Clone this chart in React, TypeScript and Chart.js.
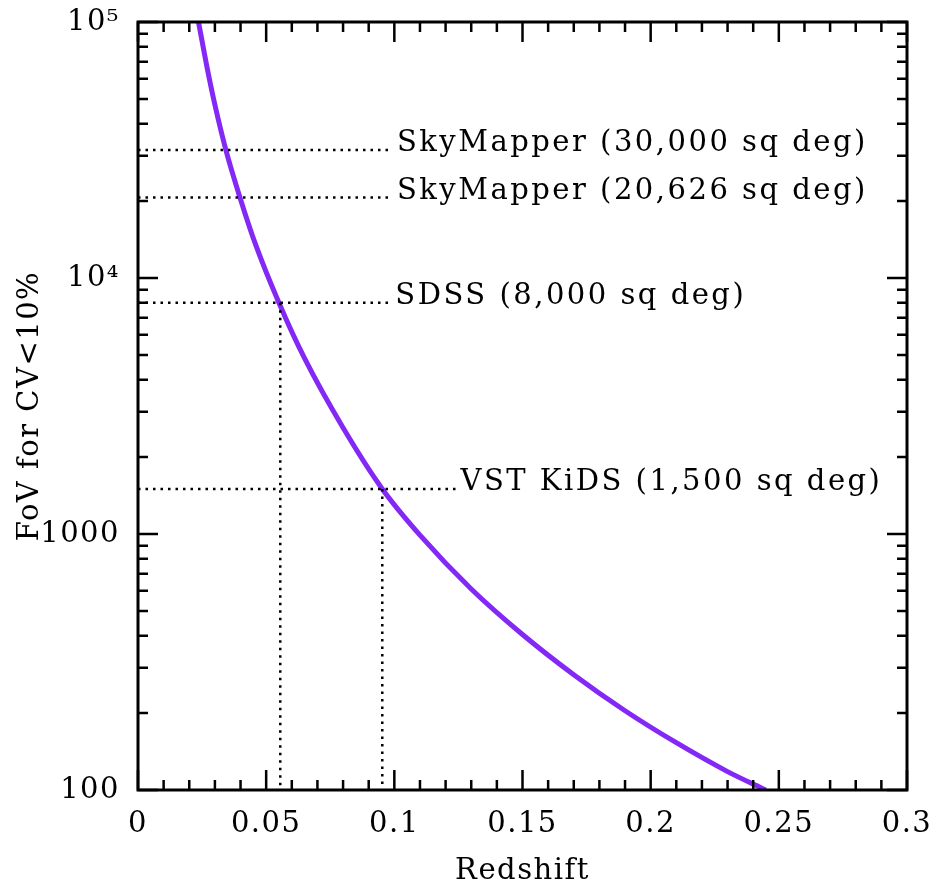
import { useEffect, useRef } from 'react';
import { Chart, registerables } from 'chart.js';

Chart.register(...registerables);

// ---- data ----
const redshift = [0.0236, 0.027, 0.03, 0.0343, 0.0398, 0.046, 0.0551, 0.065, 0.08, 0.0953, 0.11, 0.13, 0.15, 0.17, 0.19, 0.21, 0.23, 0.2449];
const fovForCV = [100000, 66000, 47500, 31600, 20600, 13400, 7950, 4850, 2600, 1500, 990, 610, 405, 282, 204, 153, 118, 100];

const xMin = 0;
const xMax = 0.3;
const xMajorStep = 0.05;
const xMinorStep = 0.01;
const yMin = 100;
const yMax = 100000;
const yTickValues = [100, 1000, 10000, 100000];
const yTickLabels = ['100', '1000', '10⁴', '10⁵'];

const surveyLabels = ['SkyMapper (30,000 sq deg)', 'SkyMapper (20,626 sq deg)', 'SDSS (8,000 sq deg)', 'VST KiDS (1,500 sq deg)'];
const surveyFov = [31600, 20626, 8000, 1500];
const surveyGuideEnd = [0.0992, 0.0992, 0.0992, 0.125];
const surveyLabelStart = [0.101, 0.101, 0.1004, 0.1258];
const surveyRedshift: (number | null)[] = [null, null, 0.0555, 0.0953];

const xTitle = 'Redshift';
const yTitle = 'FoV for CV<10%';

const FONT = '"DejaVu Serif", serif';
const FONT_SIZE = 29;
const CURVE_COLOR = 'rgb(131, 40, 245)';

const framePlugin = {
  id: 'frameTicks',
  beforeDraw(chart: any) {
    chart.ctx.letterSpacing = '1.5px';
  },
  afterDatasetsDraw(chart: any) {
    const { ctx } = chart;
    const xs = chart.scales.x;
    const ys = chart.scales.y;
    ctx.save();
    ctx.font = `${FONT_SIZE}px ${FONT}`;
    ctx.letterSpacing = '2.5px';
    ctx.fillStyle = '#000';
    ctx.textAlign = 'left';
    ctx.textBaseline = 'alphabetic';
    surveyLabels.forEach((t, i) => {
      ctx.fillText(t, xs.getPixelForValue(surveyLabelStart[i]), ys.getPixelForValue(surveyFov[i]) + 1);
    });
    ctx.restore();
  },
  afterDraw(chart: any) {
    const { ctx, chartArea } = chart;
    const xs = chart.scales.x;
    const ys = chart.scales.y;
    const { left, right, top, bottom } = chartArea;
    ctx.save();
    ctx.strokeStyle = '#000';
    ctx.lineCap = 'butt';
    const major = 20;
    const minor = 10;
    ctx.lineWidth = 2.5;
    ctx.beginPath();
    const nMinor = Math.round((xMax - xMin) / xMinorStep);
    const perMajor = Math.round(xMajorStep / xMinorStep);
    for (let i = 0; i <= nMinor; i++) {
      const v = xMin + i * xMinorStep;
      const px = xs.getPixelForValue(v);
      const len = i % perMajor === 0 ? major : minor;
      ctx.moveTo(px, bottom);
      ctx.lineTo(px, bottom - len);
      ctx.moveTo(px, top);
      ctx.lineTo(px, top + len);
    }
    for (let d = yMin; d < yMax; d *= 10) {
      for (let m = 1; m <= 10; m++) {
        const v = d * m;
        if (v > yMax) break;
        const py = ys.getPixelForValue(v);
        const len = m === 1 || m === 10 ? major : minor;
        ctx.moveTo(left, py);
        ctx.lineTo(left + len, py);
        ctx.moveTo(right, py);
        ctx.lineTo(right - len, py);
      }
    }
    ctx.stroke();
    ctx.lineWidth = 3;
    ctx.strokeRect(left, top, right - left, bottom - top);
    ctx.restore();
  },
};

export default function App() {
  const ref = useRef<HTMLCanvasElement | null>(null);
  useEffect(() => {
    if (!ref.current) return;
    const guideSets: any[] = [];
    const guideStyle = {
      borderColor: '#000',
      borderWidth: 2.5,
      borderDash: [2.5, 5],
      pointRadius: 0,
      fill: false,
    };
    surveyFov.forEach((f, i) => {
      guideSets.push({ ...guideStyle, data: [{ x: 0, y: f }, { x: surveyGuideEnd[i], y: f }] });
      const z = surveyRedshift[i];
      if (z !== null) {
        guideSets.push({ ...guideStyle, data: [{ x: z, y: f }, { x: z, y: yMin }] });
      }
    });
    const chart = new Chart(ref.current, {
      type: 'line',
      data: {
        datasets: [
          ...guideSets,
          {
            data: redshift.map((z, i) => ({ x: z, y: fovForCV[i] })),
            borderColor: CURVE_COLOR,
            borderWidth: 5,
            pointRadius: 0,
            cubicInterpolationMode: 'monotone',
            fill: false,
          },
        ],
      },
      options: {
        animation: false,
        responsive: false,
        events: [],
        layout: { padding: { top: 22, right: 28, left: 0, bottom: 0 } },
        plugins: { legend: { display: false }, tooltip: { enabled: false } },
        scales: {
          x: {
            type: 'linear',
            min: xMin,
            max: xMax,
            grid: { display: false, drawTicks: false },
            border: { display: false },
            ticks: {
              stepSize: xMajorStep,
              color: '#000',
              padding: 17,
              font: { family: FONT, size: FONT_SIZE },
              maxRotation: 0,
              callback: (v: any) => String(Number(Number(v).toFixed(2))),
            },
            title: {
              display: true,
              text: xTitle,
              color: '#000',
              font: { family: FONT, size: FONT_SIZE },
              padding: { top: 0, bottom: -5 },
            },
            afterFit: (s: any) => {
              s.height = 94;
              s.paddingLeft = 0;
              s.paddingRight = 0;
            },
          },
          y: {
            type: 'logarithmic',
            min: yMin,
            max: yMax,
            grid: { display: false, drawTicks: false },
            border: { display: false },
            afterBuildTicks: (s: any) => {
              s.ticks = yTickValues.map((v) => ({ value: v }));
            },
            ticks: {
              color: '#000',
              padding: 18,
              font: { family: FONT, size: FONT_SIZE },
              callback: (v: any) => {
                const i = yTickValues.indexOf(Number(v));
                return i >= 0 ? yTickLabels[i] : '';
              },
            },
            title: {
              display: true,
              text: yTitle,
              color: '#000',
              font: { family: FONT, size: FONT_SIZE },
              padding: { top: 13, bottom: 0 },
            },
            afterFit: (s: any) => {
              s.width = 138;
              s.paddingTop = 0;
              s.paddingBottom = 0;
            },
          },
        },
      },
      plugins: [framePlugin],
    } as any);
    return () => chart.destroy();
  }, []);
  return (
    <div style={{ position: 'fixed', left: 0, top: 0, width: 935, height: 884, background: '#fff' }}>
      <canvas ref={ref} width={935} height={884} style={{ display: 'block' }} />
    </div>
  );
}
